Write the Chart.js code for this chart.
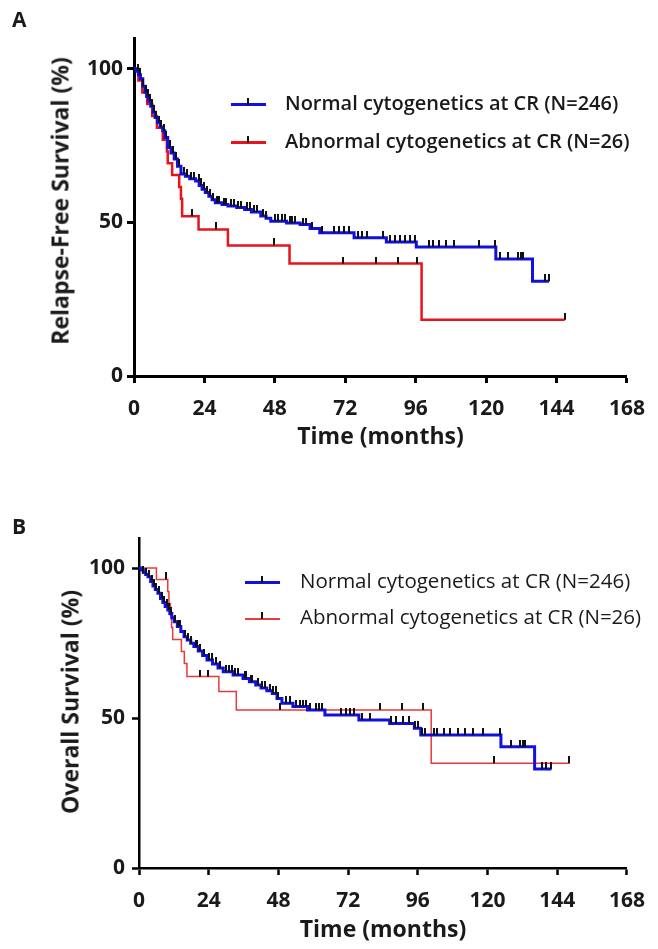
<!DOCTYPE html>
<html><head><meta charset="utf-8">
<script src="https://cdn.jsdelivr.net/npm/chart.js@4.4.1/dist/chart.umd.min.js"></script>
<style>
html,body{margin:0;padding:0;background:#fff;}
#wrap{position:relative;width:658px;height:949px;overflow:hidden;font-family:"Open Sans",Lato,sans-serif;color:#1a1a1a;}
canvas{position:absolute;left:0;}
.txt{position:absolute;white-space:nowrap;line-height:1;}
.mk{position:absolute;}
</style></head>
<body><div id="wrap">
<canvas id="cA" width="658" height="470" style="top:0px"></canvas>
<canvas id="cB" width="658" height="479" style="top:470px"></canvas>
</div>
<script>
// ---------- data ----------
const xTicks = [0, 24, 48, 72, 96, 120, 144, 168];
const yTicks = [0, 50, 100];
const seriesLabels = ["Normal cytogenetics at CR (N=246)", "Abnormal cytogenetics at CR (N=26)"];
const yTitles = ["Relapse-Free Survival (%)", "Overall Survival (%)"];
const xTitle = "Time (months)";
const panelLetters = ["A", "B"];

// Panel A: relapse-free survival
const rfsNormalTime = [0, 0.8, 1.5, 2.2, 3.0, 3.7, 4.3, 5.0, 5.7, 6.5, 7.2, 8.0, 8.9, 9.8, 10.5, 11.5, 12.6, 13.7, 14.8, 16.0, 17.5, 19.0, 21.0, 22.2, 23.2, 24.3, 25.5, 26.6, 27.7, 30.0, 32.0, 35.0, 37.7, 40.0, 43.2, 45.0, 46.6, 52.0, 56.6, 60.0, 63.3, 75.0, 86.0, 96.2, 123.3, 135.8, 141.4];
const rfsNormalSurv = [100, 99.2, 98.0, 96.7, 94.3, 92.4, 91.0, 89.4, 87.8, 85.8, 84.1, 82.5, 81.0, 79.8, 77.6, 74.4, 72.6, 70.6, 68.3, 65.7, 65.0, 64.2, 63.5, 62.0, 60.8, 59.7, 58.5, 57.4, 56.4, 55.8, 55.3, 54.8, 54.2, 53.4, 52.1, 51.3, 50.4, 49.8, 49.3, 48.0, 46.6, 45.0, 43.6, 42.0, 38.1, 30.8, 30.8];
const rfsNormalCensor = [1.2, 2.0, 3.2, 4.0, 4.8, 5.4, 6.0, 6.8, 7.6, 8.4, 9.2, 10.2, 11.0, 12.2, 13.2, 14.2, 15.5, 17.0, 18.2, 19.5, 20.5, 22.0, 23.0, 24.0, 25.0, 26.0, 27.0, 28.2, 29.0, 30.5, 31.5, 33.0, 34.0, 35.5, 36.5, 38.5, 39.5, 41.0, 42.0, 44.0, 45.0, 48.0, 49.0, 50.5, 51.5, 53.0, 54.0, 55.0, 57.5, 58.5, 60.5, 63.9, 68.3, 70.0, 71.7, 73.4, 76.2, 77.8, 79.5, 85.0, 87.3, 89.0, 90.6, 92.3, 94.0, 95.7, 100.7, 101.8, 104.0, 106.3, 109.0, 117.4, 123.0, 124.6, 127.4, 130.8, 131.9, 132.4, 140.2, 141.4];
const rfsAbnTime = [0, 1.5, 2.8, 4.5, 6.2, 7.8, 9.8, 11.2, 11.5, 13.0, 15.4, 16.0, 16.4, 22.0, 32.0, 53.0, 98.0, 146.8];
const rfsAbnSurv = [100, 96.2, 92.3, 88.5, 84.6, 80.8, 76.9, 73.1, 69.2, 65.4, 61.5, 57.7, 52.0, 47.7, 42.5, 36.6, 18.3, 18.3];
const rfsAbnCensor = [19.8, 28.0, 47.8, 71.2, 82.3, 89.9, 96.6, 146.8];

// Panel B: overall survival
const osNormalTime = [0, 0.8, 1.5, 2.3, 3.1, 4.0, 4.8, 5.6, 6.5, 7.4, 8.2, 9.0, 9.9, 10.6, 11.3, 12.1, 13.2, 14.4, 15.5, 16.6, 17.8, 18.9, 20.4, 21.9, 23.4, 25.3, 27.2, 29.0, 32.4, 35.8, 38.0, 40.2, 42.0, 44.0, 45.9, 47.5, 49.2, 53.0, 58.0, 64.0, 75.7, 86.3, 94.8, 97.0, 124.6, 136.2, 142.0];
const osNormalSurv = [100, 99.3, 98.5, 97.8, 97.1, 95.5, 94.0, 92.8, 91.6, 89.8, 88.5, 87.2, 86.0, 84.8, 83.4, 82.1, 80.5, 78.8, 77.1, 76.0, 74.9, 73.8, 72.3, 70.8, 69.3, 68.0, 66.7, 65.4, 64.3, 63.2, 62.1, 61.0, 60.0, 59.1, 58.2, 56.5, 54.9, 53.8, 52.7, 51.0, 49.3, 48.2, 46.6, 44.3, 40.4, 33.0, 33.0];
const osNormalCensor = [1.5, 2.5, 3.5, 4.5, 5.2, 6.0, 7.0, 7.8, 8.5, 9.5, 10.3, 11.0, 12.5, 13.5, 14.0, 16.0, 17.0, 18.0, 19.5, 20.0, 21.0, 22.5, 24.0, 25.0, 26.5, 28.0, 30.0, 31.0, 32.0, 33.0, 34.0, 36.5, 37.0, 38.5, 39.0, 41.0, 42.5, 43.5, 45.0, 46.0, 47.0, 48.0, 50.5, 52.0, 54.0, 55.5, 56.5, 57.5, 59.0, 61.0, 62.0, 63.0, 69.5, 71.2, 72.5, 74.0, 76.8, 79.6, 86.6, 88.5, 91.0, 93.1, 95.0, 96.0, 97.5, 98.5, 101.5, 102.6, 104.9, 107.1, 109.9, 112.2, 115.0, 118.4, 124.4, 127.9, 131.3, 132.2, 133.0, 138.6, 140.0, 142.0];
const osAbnTime = [0, 6.0, 9.9, 10.3, 10.8, 11.2, 11.6, 14.6, 15.6, 16.5, 27.5, 33.5, 100.6, 148.2];
const osAbnSurv = [100, 96.2, 92.2, 88.2, 84.2, 80.2, 76.2, 72.2, 68.2, 63.8, 58.8, 52.7, 34.9, 34.9];
const osAbnCensor = [9.3, 21.1, 23.9, 48.6, 83.0, 90.5, 97.9, 122.3, 148.2];

// ---------- helpers ----------
function survAt(times, surv, t) {
  let v = surv[0];
  for (let i = 0; i < times.length; i++) { if (times[i] <= t) v = surv[i]; else break; }
  return v;
}
function tickImg(w, h) {
  const c = document.createElement('canvas');
  c.width = w; c.height = h * 2;
  const g = c.getContext('2d');
  g.fillStyle = '#111'; g.fillRect(0, 0, w, h);
  return c;
}
const FONT = 'Open Sans';
const wrap = document.getElementById('wrap');
function addText(text, left, top, size, weight, extra) {
  const d = document.createElement('div');
  d.className = 'txt'; d.textContent = text;
  d.style.left = left + 'px'; d.style.top = top + 'px';
  d.style.fontSize = size + 'px'; d.style.fontWeight = weight;
  if (extra) Object.assign(d.style, extra);
  wrap.appendChild(d); return d;
}
function addBox(left, top, w, h, color) {
  const d = document.createElement('div');
  d.className = 'mk';
  Object.assign(d.style, {left: left + 'px', top: top + 'px', width: w + 'px', height: h + 'px', background: color});
  wrap.appendChild(d);
}

function makeChart(id, L, series, yTitle, letter) {
  const datasets = [];
  series.forEach(s => {
    datasets.push({
      type: 'line', label: s.label,
      data: s.time.map((t, i) => ({x: t, y: s.surv[i]})),
      stepped: 'before', borderColor: s.color, borderWidth: s.width,
      pointRadius: 0, fill: false, order: s.order, tension: 0,
      borderCapStyle: 'butt', borderJoinStyle: 'miter'
    });
  });
  const tick = tickImg(2, L.tickH);
  series.forEach(s => {
    datasets.push({
      type: 'scatter', label: s.label + ' censored',
      data: s.censor.map(t => ({x: t, y: survAt(s.time, s.surv, t)})),
      pointStyle: tick, pointRadius: 3, order: 0, showLine: false
    });
  });
  const tickFont = {family: FONT, weight: 'bold', size: L.tickSize};
  new Chart(document.getElementById(id), {
    data: {datasets},
    options: {
      responsive: false, animation: false, devicePixelRatio: 1, events: [],
      layout: {padding: {top: L.top, right: 658 - L.right, left: 0, bottom: 0}},
      plugins: {legend: {display: false}, tooltip: {enabled: false}},
      scales: {
        x: {
          type: 'linear', min: 0, max: 168,
          afterBuildTicks: s => { s.ticks = xTicks.map(v => ({value: v})); },
          afterFit: s => { s.height = L.h - L.bottom; },
          ticks: {font: tickFont, color: '#1a1a1a', padding: L.xPad, maxRotation: 0, autoSkip: false},
          grid: {drawOnChartArea: false, drawTicks: true, tickLength: 7, tickWidth: L.aw, tickColor: '#000'},
          border: {display: true, width: L.aw, color: '#000'},
          title: {display: true, text: xTitle, color: '#1a1a1a',
                  font: {family: FONT, weight: 'bold', size: L.titleSize}, padding: {top: 0, bottom: L.xTitleBottom}}
        },
        y: {
          type: 'linear', min: 0, max: 110,
          afterBuildTicks: s => { s.ticks = yTicks.map(v => ({value: v})); },
          afterFit: s => { s.width = L.left; },
          ticks: {font: tickFont, color: '#1a1a1a', padding: L.yPad},
          grid: {drawOnChartArea: false, drawTicks: true, tickLength: 7, tickWidth: L.aw, tickColor: '#000'},
          border: {display: true, width: L.aw, color: '#000'}
        }
      }
    }
  });
  // panel letter, y title, legend (HTML text)
  addText(letter, L.letterX, L.off + L.letterY, 21, 700);
  addText(yTitle, L.yTitleX, L.off + L.yTitleY, L.titleSize, 700,
          {transform: 'translate(-50%,-50%) rotate(-90deg)'});
  series.forEach((s, i) => {
    const cy = L.off + L.legY[i];
    addBox(L.legX, cy - Math.round(s.legW / 2), 35, s.legW, s.color);
    addBox(L.legX + 16, cy - 7, 2, 7, '#111');
    addText(s.label, L.legTextX, cy - L.legSize * 0.62, L.legSize, L.legWeight);
  });
}

makeChart('cA',
  {off: 0, h: 470, top: 38, right: 636, bottom: 376, left: 134, aw: 3, tickH: 7, tickSize: 21, titleSize: 23,
   xPad: 13, yPad: 4, xTitleBottom: 19, letterX: 12, letterY: 9, yTitleX: 60, yTitleY: 201,
   legX: 231, legTextX: 285, legY: [105, 143], legSize: 20, legWeight: 600},
  [
    {label: seriesLabels[0], time: rfsNormalTime, surv: rfsNormalSurv, censor: rfsNormalCensor, color: '#1010e0', width: 3, order: 1, legW: 3},
    {label: seriesLabels[1], time: rfsAbnTime, surv: rfsAbnSurv, censor: rfsAbnCensor, color: '#e8141b', width: 2.5, order: 2, legW: 3}
  ],
  yTitles[0], panelLetters[0]);

makeChart('cB',
  {off: 470, h: 479, top: 68, right: 637, bottom: 398, left: 139, aw: 2.5, tickH: 7, tickSize: 21, titleSize: 23,
   xPad: 13, yPad: 7, xTitleBottom: 5, letterX: 12, letterY: 46, yTitleX: 70, yTitleY: 232,
   legX: 245, legTextX: 300, legY: [113, 149], legSize: 20.5, legWeight: 400},
  [
    {label: seriesLabels[0], time: osNormalTime, surv: osNormalSurv, censor: osNormalCensor, color: '#1010e0', width: 3, order: 1, legW: 3},
    {label: seriesLabels[1], time: osAbnTime, surv: osAbnSurv, censor: osAbnCensor, color: '#e83a3a', width: 1.5, order: 2, legW: 2}
  ],
  yTitles[1], panelLetters[1]);
</script>
</body></html>
